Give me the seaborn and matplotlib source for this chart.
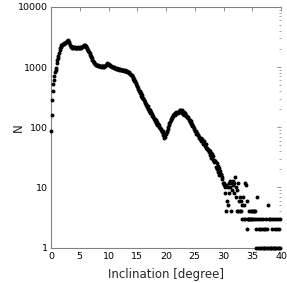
import numpy as np
import pandas as pd
import matplotlib
matplotlib.use("Agg")
import matplotlib.pyplot as plt
import matplotlib.ticker as mticker
import seaborn as sns

# Inclination bins (0.1 degree wide)
inclination = np.round(np.arange(0, 40, 0.1), 1)

# Number of objects per bin, one row per degree
counts = [
    85, 162, 286, 405, 530, 615, 700, 815, 910, 975,
    1170, 1290, 1420, 1560, 1730, 1900, 2100, 2200, 2370, 2300,
    2450, 2400, 2500, 2420, 2550, 2520, 2600, 2680, 2770, 2700,
    2870, 2650, 2520, 2350, 2250, 2200, 2150, 2120, 2180, 2100,
    2130, 2080, 2150, 2100, 2060, 2120, 2090, 2140, 2070, 2110,
    2100, 2150, 2080, 2180, 2160, 2220, 2250, 2370, 2280, 2300,
    2250, 2200, 2100, 2000, 1950, 1850, 1780, 1700, 1620, 1550,
    1500, 1420, 1330, 1250, 1200, 1170, 1140, 1120, 1100, 1080,
    1090, 1060, 1075, 1040, 1060, 1030, 1050, 1020, 1045, 1030,
    1010, 1040, 1020, 1060, 1050, 1080, 1100, 1130, 1150, 1120,
    1130, 1100, 1080, 1060, 1040, 1050, 1020, 1000, 990, 1000,
    980, 960, 970, 940, 950, 930, 940, 920, 930, 910,
    920, 900, 910, 890, 905, 880, 890, 870, 880, 860,
    860, 850, 870, 840, 830, 820, 800, 780, 760, 740,
    740, 700, 695, 635, 645, 585, 585, 530, 535, 490,
    480, 440, 445, 400, 405, 365, 370, 335, 340, 305,
    305, 280, 285, 255, 262, 236, 242, 218, 222, 200,
    204, 186, 192, 172, 176, 156, 163, 147, 151, 135,
    139, 125, 131, 116, 122, 108, 115, 101, 107, 96,
    99, 90, 93, 83, 85, 74, 77, 65, 70, 76,
    78, 84, 88, 92, 100, 108, 118, 124, 130, 136,
    142, 150, 155, 160, 168, 162, 172, 170, 178, 175,
    180, 170, 187, 176, 192, 197, 180, 190, 174, 182,
    168, 177, 162, 170, 155, 162, 150, 150, 140, 147,
    133, 132, 122, 125, 113, 115, 105, 105, 95, 98,
    87, 88, 85, 78, 79, 75, 74, 67, 70, 63,
    66, 60, 63, 58, 60, 52, 58, 49, 52, 45,
    52, 43, 46, 42, 42, 39, 40, 34, 37, 31,
    36, 28, 33, 26, 29, 27, 27, 22, 25, 20,
    23, 18, 21, 16, 19, 17, 16, 14, 15, 12,
    12, 11, 10, 8, 11, 4, 6, 10, 5, 8,
    12, 10, 13, 4, 12, 9, 11, 13, 8, 12,
    15, 10, 7, 9, 4, 12, 4, 6, 7, 4,
    4, 6, 5, 3, 7, 5, 3, 12, 3, 11,
    2, 6, 3, 3, 3, 4, 3, 4, 3, 4,
    3, 4, 3, 4, 3, 4, 2, 1, 3, 7,
    1, 2, 3, 1, 2, 3, 1, 2, 1, 3,
    2, 1, 1, 2, 3, 1, 2, 1, 5, 3,
    1, 3, 1, 1, 3, 2, 1, 3, 1, 2,
    1, 3, 1, 2, 3, 1, 1, 2, 1, 3,
]

x_ticks = [0, 5, 10, 15, 20, 25, 30, 35, 40]
y_ticks = [1, 10, 100, 1000, 10000]
y_tick_labels = ["1", "10", "100", "1000", "10000"]

df = pd.DataFrame({"inclination": inclination, "N": counts})

sns.set_theme(style="white")
plt.rcParams["font.family"] = ["DejaVu Sans"]

fig = plt.figure(figsize=(2.87, 2.83), dpi=100)
ax = fig.add_axes([51 / 287, 1 - 247.5 / 283, 230 / 287, 240.5 / 283])

sns.scatterplot(data=df, x="inclination", y="N", ax=ax, color="black",
                s=8, linewidth=0, clip_on=False, zorder=3)

ax.set_yscale("log")
ax.set_xlim(0, 40)
ax.set_ylim(1, 10000)
ax.set_xticks(x_ticks)
ax.set_xticklabels([str(t) for t in x_ticks])
ax.set_yticks(y_ticks)
ax.set_yticklabels(y_tick_labels)
ax.yaxis.set_minor_locator(mticker.LogLocator(base=10, subs=np.arange(2, 10)))
ax.yaxis.set_minor_formatter(mticker.NullFormatter())

for side in ["left", "bottom", "top"]:
    ax.spines[side].set_color("#808080")
    ax.spines[side].set_linewidth(0.8)
ax.spines["right"].set_visible(False)

ax.tick_params(axis="both", which="both", direction="in", colors="#808080",
               labelcolor="black", labelsize=6.8, top=True, right=True)
ax.tick_params(axis="x", which="major", pad=3)
ax.tick_params(axis="y", which="major", pad=2)
ax.tick_params(axis="both", which="major", length=3, width=0.6)
ax.tick_params(axis="y", which="minor", length=1.5, width=0.5)

ax.set_xlabel("Inclination [degree]", fontsize=8.5, labelpad=5)
ax.set_ylabel("N", fontsize=8.5)
ax.yaxis.set_label_coords(-0.115, 0.5)

plt.savefig("out.png", dpi=100)
